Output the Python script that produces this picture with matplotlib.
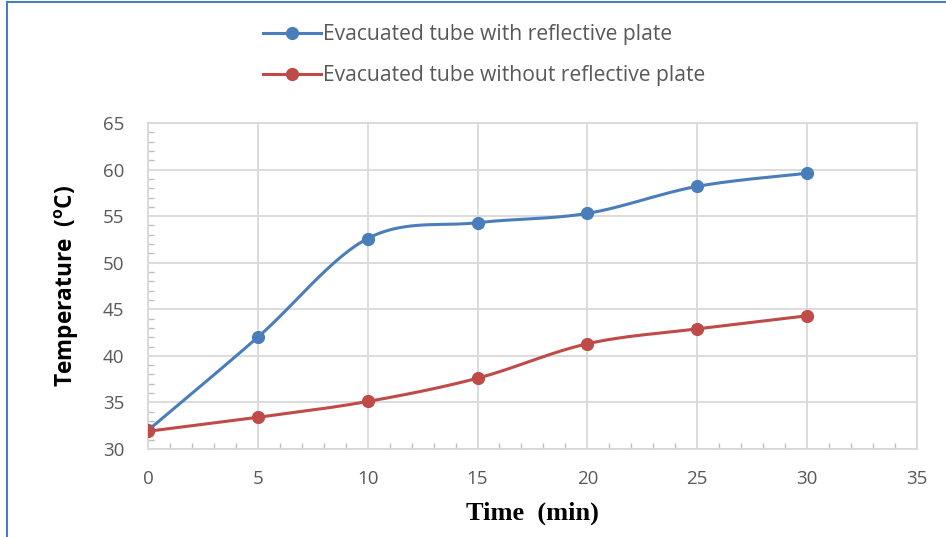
import numpy as np
import matplotlib.pyplot as plt
from matplotlib.lines import Line2D

# data
time_min = [0, 5, 10, 15, 20, 25, 30]
with_plate = [32.0, 42.0, 52.6, 54.3, 55.3, 58.2, 59.6]
without_plate = [31.9, 33.4, 35.1, 37.6, 41.3, 42.9, 44.3]
label_with = "Evacuated tube with reflective plate"
label_without = "Evacuated tube without reflective plate"

blue = "#4a7ebb"
red = "#be4b48"
grid_c = "#d9d9d9"
tick_c = "#595959"

plt.rcParams["mathtext.fontset"] = "custom"
plt.rcParams["mathtext.bf"] = "Open Sans:bold"
plt.rcParams["mathtext.rm"] = "Open Sans:bold"


def smooth(x, y, n=30):
    # Excel-style smoothed line: bezier segments with catmull-rom control points
    x = np.asarray(x, float)
    y = np.asarray(y, float)
    px = np.concatenate([[x[0]], x, [x[-1]]])
    py = np.concatenate([[y[0]], y, [y[-1]]])
    xs, ys = [], []
    t = np.linspace(0, 1, n)
    for i in range(1, len(px) - 2):
        p0 = np.array([px[i], py[i]])
        p3 = np.array([px[i + 1], py[i + 1]])
        p1 = p0 + (np.array([px[i + 1], py[i + 1]]) - np.array([px[i - 1], py[i - 1]])) / 6
        p2 = p3 - (np.array([px[i + 2], py[i + 2]]) - np.array([px[i], py[i]])) / 6
        b = ((1 - t) ** 3)[:, None] * p0 + (3 * (1 - t) ** 2 * t)[:, None] * p1 \
            + (3 * (1 - t) * t ** 2)[:, None] * p2 + (t ** 3)[:, None] * p3
        xs.append(b[:, 0])
        ys.append(b[:, 1])
    return np.concatenate(xs), np.concatenate(ys)


fig = plt.figure(figsize=(9.46, 5.37), dpi=100)
ax = fig.add_axes([0.1564, 0.1639, 0.8129, 0.607])

for y, c in [(with_plate, blue), (without_plate, red)]:
    sx, sy = smooth(time_min, y)
    ax.plot(sx, sy, color=c, lw=2.2, solid_capstyle="round", zorder=3)
    ax.plot(time_min, y, "o", color=c, ms=8.5, zorder=4)

ax.set_xlim(0, 35)
ax.set_ylim(30, 65)
ax.set_xticks(range(0, 36, 5))
ax.set_yticks(range(30, 66, 5))
ax.set_xticks(range(0, 36), minor=True)
ax.set_yticks(range(30, 66), minor=True)
ax.grid(True, which="major", color=grid_c, lw=1.3)
ax.set_axisbelow(True)
for s in ax.spines.values():
    s.set_color(grid_c)
    s.set_linewidth(1.3)
ax.tick_params(which="major", length=0, labelsize=13.5, labelcolor=tick_c)
ax.tick_params(axis="y", which="major", pad=17)
ax.tick_params(axis="x", which="major", pad=15)
ax.tick_params(which="minor", direction="in", length=4, color="#bfbfbf", width=1)
for lab in ax.get_xticklabels() + ax.get_yticklabels():
    lab.set_fontfamily("Open Sans")

ax.set_xlabel("Time  (min)", fontfamily="Liberation Serif", fontweight="bold",
              fontsize=19, labelpad=10)
ax.set_ylabel("Temperature  ($\\mathbf{^{o}}$C)", fontfamily="Open Sans",
              fontweight="bold", fontsize=16.3, labelpad=16)

handles = [Line2D([], [], color=blue, lw=2.2, marker="o", ms=8.5),
           Line2D([], [], color=red, lw=2.2, marker="o", ms=8.5)]
fig.legend(handles, [label_with, label_without], loc="upper left",
           bbox_to_anchor=(0.258, 0.99), frameon=False, handlelength=2.75,
           handletextpad=0.1, labelspacing=0.95,
           prop={"family": "Open Sans", "size": 15.2}, labelcolor=tick_c)

# blue chart border along left and top
fig.add_artist(Line2D([0.0075, 0.0075], [0, 0.996], color=blue, lw=1.5))
fig.add_artist(Line2D([0.0075, 1], [0.996, 0.996], color=blue, lw=1.5))

fig.savefig("out.png", dpi=100)
